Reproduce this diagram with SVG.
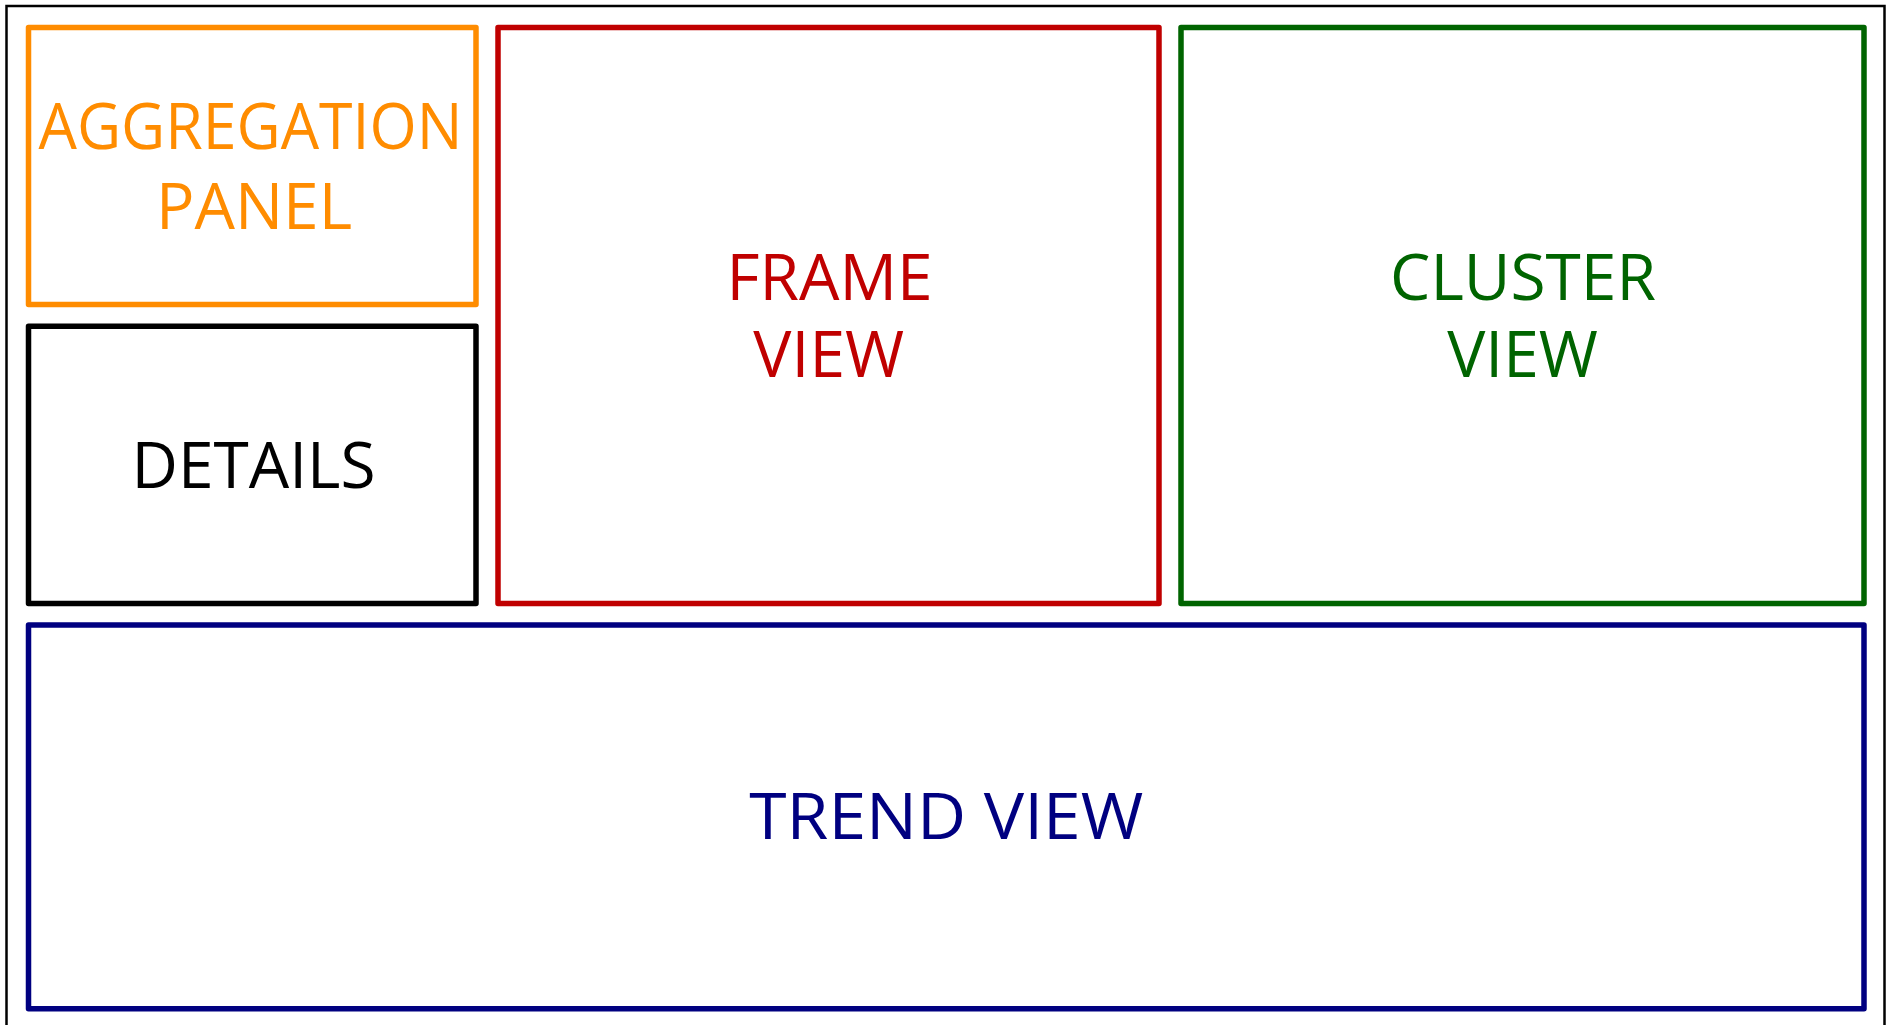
<svg xmlns="http://www.w3.org/2000/svg" width="1889" height="1025" viewBox="0 0 1889 1025">
  <style>
    .panel { fill: none; stroke-width: 5.5; stroke-linejoin: round; }
    .label { font-family: "Open Sans", "Noto Sans", sans-serif; font-size: 64px; text-anchor: middle; }
    .orange { stroke: #FF8C00; } .orange-t { fill: #FF8C00; }
    .black { stroke: #000000; } .black-t { fill: #000000; }
    .red { stroke: #C00000; } .red-t { fill: #C00000; }
    .green { stroke: #006400; } .green-t { fill: #006400; }
    .navy { stroke: #000080; } .navy-t { fill: #000080; }
  </style>
  <rect x="0" y="0" width="1889" height="1025" fill="#ffffff"/>
  <!-- outer window frame -->
  <rect id="frame" x="6.5" y="6" width="1878" height="1040" fill="none" stroke="#000000" stroke-width="2.5"/>

  <g id="aggregation-panel">
    <rect class="panel orange" x="28.5" y="27.5" width="447.5" height="277"/>
    <text class="label orange-t" x="250.5" y="149.3" textLength="424" lengthAdjust="spacingAndGlyphs">AGGREGATION</text>
    <text class="label orange-t" x="254" y="229.3">PANEL</text>
  </g>

  <g id="details">
    <rect class="panel black" x="28.5" y="326.3" width="447.5" height="277.2"/>
    <text class="label black-t" x="253.5" y="487.7">DETAILS</text>
  </g>

  <g id="frame-view">
    <rect class="panel red" x="498" y="27.5" width="661" height="576"/>
    <text class="label red-t" x="829.5" y="300">FRAME</text>
    <text class="label red-t" x="828.7" y="376.5">VIEW</text>
  </g>

  <g id="cluster-view">
    <rect class="panel green" x="1181" y="27.5" width="683" height="576"/>
    <text class="label green-t" x="1523" y="300">CLUSTER</text>
    <text class="label green-t" x="1522.5" y="376.5">VIEW</text>
  </g>

  <g id="trend-view">
    <rect class="panel navy" x="28.5" y="625" width="1835.5" height="383.7"/>
    <text class="label navy-t" x="946.3" y="839.3" textLength="394" lengthAdjust="spacingAndGlyphs">TREND VIEW</text>
  </g>

  <g id="connectors"></g>
</svg>
